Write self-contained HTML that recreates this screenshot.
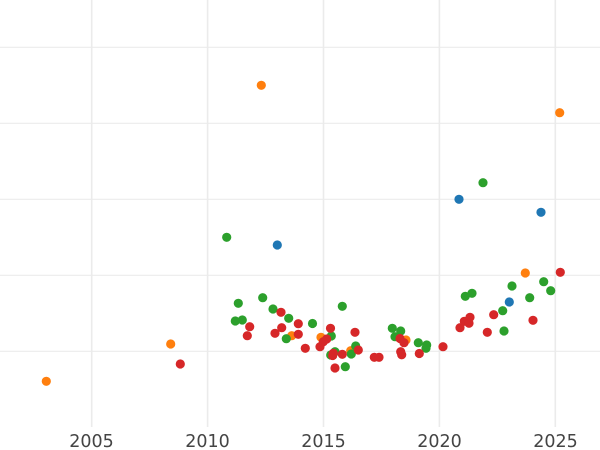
<!DOCTYPE html>
<html>
<head>
<meta charset="utf-8">
<style>
html,body{margin:0;padding:0;background:#fff;}
svg{display:block;}
text{font-family:"DejaVu Sans","Liberation Sans",sans-serif;font-size:17.5px;fill:#444;}
</style>
</head>
<body>
<svg width="600" height="450" viewBox="0 0 600 450" xmlns="http://www.w3.org/2000/svg">
<rect width="600" height="450" fill="#fff"/>
<g stroke="#ebebeb" stroke-width="1.2">
<line x1="0" y1="47.3" x2="600" y2="47.3"/>
<line x1="0" y1="123.3" x2="600" y2="123.3"/>
<line x1="0" y1="199.3" x2="600" y2="199.3"/>
<line x1="0" y1="275.3" x2="600" y2="275.3"/>
<line x1="0" y1="351.3" x2="600" y2="351.3"/>
</g>
<g stroke="#ebebeb" stroke-width="1.6">
<line x1="91.7" y1="0" x2="91.7" y2="427"/>
<line x1="207.6" y1="0" x2="207.6" y2="427"/>
<line x1="323.5" y1="0" x2="323.5" y2="427"/>
<line x1="439.4" y1="0" x2="439.4" y2="427"/>
<line x1="555.3" y1="0" x2="555.3" y2="427"/>
</g>
<g text-anchor="middle">
<text x="91.5" y="447">2005</text>
<text x="207.5" y="447">2010</text>
<text x="323.5" y="447">2015</text>
<text x="439.5" y="447">2020</text>
<text x="555.5" y="447">2025</text>
</g>
<!-- blue -->
<g fill="#1f77b4">
<circle cx="459" cy="199.3" r="4.6"/>
<circle cx="277.3" cy="245" r="4.6"/>
<circle cx="541" cy="212.3" r="4.6"/>
<circle cx="509.3" cy="302" r="4.6"/>
</g>
<!-- orange -->
<g fill="#ff7f0e">
<circle cx="46.3" cy="381.3" r="4.6"/>
<circle cx="170.7" cy="344" r="4.6"/>
<circle cx="261.3" cy="85.3" r="4.6"/>
<circle cx="559.7" cy="112.7" r="4.6"/>
<circle cx="525.3" cy="273" r="4.6"/>
<circle cx="321" cy="337.3" r="4.6"/>
<circle cx="291.7" cy="335.7" r="4.6"/>
<circle cx="350.7" cy="350.7" r="4.6"/>
<circle cx="406" cy="340" r="4.6"/>
</g>
<!-- green -->
<g fill="#2ca02c">
<circle cx="226.7" cy="237.3" r="4.6"/>
<circle cx="238.3" cy="303.3" r="4.6"/>
<circle cx="235.3" cy="321" r="4.6"/>
<circle cx="242.3" cy="320" r="4.6"/>
<circle cx="262.7" cy="297.7" r="4.6"/>
<circle cx="273" cy="309" r="4.6"/>
<circle cx="288.7" cy="318.3" r="4.6"/>
<circle cx="286.3" cy="338.7" r="4.6"/>
<circle cx="312.5" cy="323.5" r="4.6"/>
<circle cx="342.3" cy="306.3" r="4.6"/>
<circle cx="331.3" cy="336" r="4.6"/>
<circle cx="330.7" cy="355" r="4.6"/>
<circle cx="335" cy="351.7" r="4.6"/>
<circle cx="345.3" cy="366.7" r="4.6"/>
<circle cx="355.7" cy="346" r="4.6"/>
<circle cx="351.3" cy="354" r="4.6"/>
<circle cx="392.3" cy="328.3" r="4.6"/>
<circle cx="400.7" cy="331" r="4.6"/>
<circle cx="395" cy="336.7" r="4.6"/>
<circle cx="418.3" cy="342.7" r="4.6"/>
<circle cx="426.7" cy="345" r="4.6"/>
<circle cx="426" cy="348.3" r="4.6"/>
<circle cx="465.3" cy="296.3" r="4.6"/>
<circle cx="472" cy="293.3" r="4.6"/>
<circle cx="483" cy="182.7" r="4.6"/>
<circle cx="512" cy="286" r="4.6"/>
<circle cx="502.7" cy="310.7" r="4.6"/>
<circle cx="504" cy="331" r="4.6"/>
<circle cx="529.7" cy="297.7" r="4.6"/>
<circle cx="543.7" cy="281.7" r="4.6"/>
<circle cx="550.7" cy="290.7" r="4.6"/>
</g>
<!-- red -->
<g fill="#d62728">
<circle cx="180.3" cy="364" r="4.6"/>
<circle cx="249.7" cy="326.7" r="4.6"/>
<circle cx="247.3" cy="335.7" r="4.6"/>
<circle cx="281" cy="312.3" r="4.6"/>
<circle cx="281.7" cy="327.7" r="4.6"/>
<circle cx="275" cy="333.3" r="4.6"/>
<circle cx="298.3" cy="323.7" r="4.6"/>
<circle cx="298.3" cy="334.3" r="4.6"/>
<circle cx="305.3" cy="348.3" r="4.6"/>
<circle cx="320" cy="346.7" r="4.6"/>
<circle cx="323.3" cy="341.7" r="4.6"/>
<circle cx="326.7" cy="339" r="4.6"/>
<circle cx="330.5" cy="328.3" r="4.6"/>
<circle cx="333.3" cy="353.3" r="4.6"/>
<circle cx="332.7" cy="355.5" r="4.6"/>
<circle cx="342.3" cy="354.3" r="4.6"/>
<circle cx="335" cy="368" r="4.6"/>
<circle cx="355" cy="332.3" r="4.6"/>
<circle cx="358.3" cy="350" r="4.6"/>
<circle cx="374.3" cy="357.3" r="4.6"/>
<circle cx="379" cy="357.3" r="4.6"/>
<circle cx="400" cy="338.5" r="4.6"/>
<circle cx="404" cy="342.7" r="4.6"/>
<circle cx="400.7" cy="351.7" r="4.6"/>
<circle cx="401.7" cy="354.8" r="4.6"/>
<circle cx="419.3" cy="353.5" r="4.6"/>
<circle cx="443" cy="346.7" r="4.6"/>
<circle cx="460" cy="327.7" r="4.6"/>
<circle cx="464.3" cy="321.3" r="4.6"/>
<circle cx="470" cy="317.3" r="4.6"/>
<circle cx="469" cy="323.3" r="4.6"/>
<circle cx="493.7" cy="314.7" r="4.6"/>
<circle cx="487.3" cy="332.3" r="4.6"/>
<circle cx="533" cy="320.3" r="4.6"/>
<circle cx="560.3" cy="272.3" r="4.6"/>
</g>
</svg>
</body>
</html>
